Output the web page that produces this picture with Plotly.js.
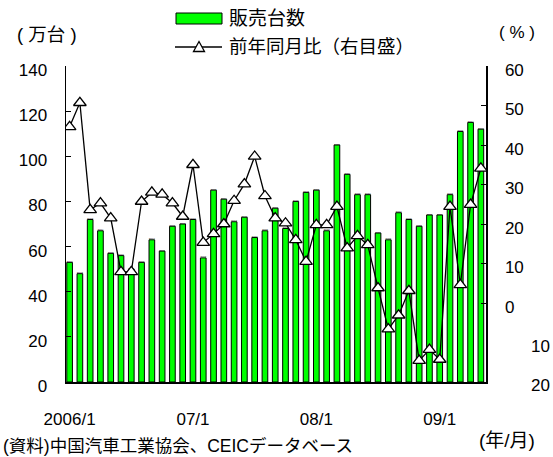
<!DOCTYPE html>
<html>
<head>
<meta charset="utf-8">
<script src="https://cdn.plot.ly/plotly-3.0.1.min.js"></script>
<style>
  body { margin: 0; background: #fff; }
  #plot { width: 553px; height: 457px; }
</style>
</head>
<body>
<div id="plot"></div>
<script>
// months 2006/1 - 2009/5
var months = [
  "2006/1","2006/2","2006/3","2006/4","2006/5","2006/6","2006/7","2006/8","2006/9","2006/10","2006/11","2006/12",
  "2007/1","2007/2","2007/3","2007/4","2007/5","2007/6","2007/7","2007/8","2007/9","2007/10","2007/11","2007/12",
  "2008/1","2008/2","2008/3","2008/4","2008/5","2008/6","2008/7","2008/8","2008/9","2008/10","2008/11","2008/12",
  "2009/1","2009/2","2009/3","2009/4","2009/5"
];

// 販売台数 (万台)
var sales = [
  53, 48, 72, 67, 57, 56, 50, 53, 63, 58, 69, 70,
  72, 55, 85, 81, 71, 73, 64, 67, 77, 68, 80, 84,
  85, 67, 105, 92, 83, 83, 66, 63, 75, 72, 69, 74,
  74, 83, 111, 115, 112
];

// 前年同月比 (%)
var yoy = [
  44.6, 50.7, 23.6, 25.3, 21.5, 7.9, 7.9, 25.7, 28.0, 27.5, 25.3, 21.9,
  35.0, 15.3, 17.5, 20.0, 25.9, 30.1, 37.1, 27.1, 21.5, 20.2, 16.0, 10.5,
  19.8, 19.8, 24.4, 13.9, 17.0, 14.7, 3.8, -6.6, -3.1, 3.1, -14.6, -11.8,
  -14.3, 24.4, 4.6, 24.9, 34.1
];

var xLabels = ["2006/1", "07/1", "08/1", "09/1"];
var xLabelPos = [0, 12, 24, 36];
var yearBreaks = [11.5, 23.5, 35.5];

var idx = months.map(function (m, i) { return i; });

var FONT = "Liberation Sans, Arial, Noto Sans CJK JP, sans-serif";

var barTrace = {
  x: idx,
  y: sales,
  text: months,
  type: "bar",
  name: "販売台数",
  width: 0.55,
  marker: { color: "#00ff00", line: { color: "#000", width: 1 } },
  showlegend: false
};

var lineTrace = {
  x: idx,
  y: yoy,
  text: months,
  type: "scatter",
  mode: "lines+markers",
  name: "前年同月比",
  yaxis: "y2",
  line: { color: "#000", width: 1.3 },
  marker: { symbol: "triangle-up", size: 11, color: "#fff", line: { color: "#000", width: 1.3 } },
  showlegend: false
};

// pixel -> paper helpers for the hand-made legend and notes
var L = 66, R = 486, T = 66, B = 382;
function px(x) { return (x - L) / (R - L); }
function py(y) { return (B - y) / (B - T); }

var triX = 199, triY = 47;
var layout = {
  width: 553,
  height: 457,
  margin: { l: L, r: 553 - R, t: T, b: 457 - B, pad: 0 },
  paper_bgcolor: "#fff",
  plot_bgcolor: "#fff",
  font: { family: FONT, size: 17, color: "#000" },
  xaxis: {
    range: [-0.35, 40.5],
    tickmode: "array",
    tickvals: xLabelPos,
    ticktext: xLabels,
    ticks: "",
    showgrid: false,
    zeroline: false,
    showline: true,
    linecolor: "#000",
    linewidth: 1.5,
    ticklabelstandoff: 21
  },
  xaxis2: {
    overlaying: "x",
    range: [-0.35, 40.5],
    tickmode: "array",
    tickvals: yearBreaks,
    ticks: "inside",
    ticklen: 4,
    tickcolor: "#000",
    showticklabels: false,
    showgrid: false,
    zeroline: false,
    anchor: "y"
  },
  yaxis: {
    range: [0, 140],
    dtick: 20,
    ticks: "inside",
    ticklen: 5,
    tickcolor: "#000",
    showgrid: false,
    zeroline: false,
    showline: true,
    linecolor: "#000",
    linewidth: 1.5,
    ticklabelstandoff: 14,
    ticklabelshift: 4
  },
  yaxis2: {
    overlaying: "y",
    side: "right",
    range: [-20, 60],
    tickmode: "array",
    tickvals: [0, 10, 20, 30, 40, 50, 60],
    ticks: "inside",
    ticklen: 5,
    tickcolor: "#000",
    showgrid: false,
    zeroline: false,
    showline: true,
    linecolor: "#000",
    linewidth: 1.5,
    ticklabelstandoff: 14,
    ticklabelshift: 4
  },
  shapes: [
    { type: "rect", xref: "paper", yref: "paper", x0: px(176), x1: px(222), y0: py(24), y1: py(13),
      fillcolor: "#00ff00", line: { color: "#000", width: 1 } },
    { type: "line", xref: "paper", yref: "paper", x0: px(175), x1: px(222), y0: py(triY), y1: py(triY),
      line: { color: "#000", width: 1.3 } },
    { type: "path", xref: "paper", yref: "paper",
      path: "M " + px(triX - 5.5) + "," + py(triY + 4.5) + " L " + px(triX + 5.5) + "," + py(triY + 4.5) +
            " L " + px(triX) + "," + py(triY - 5.5) + " Z",
      fillcolor: "#fff", line: { color: "#000", width: 1.3 } }
  ],
  annotations: [
    { text: "( 万台 )", xref: "paper", yref: "paper", x: px(47), y: py(35), xanchor: "center", yanchor: "middle", showarrow: false, font: { size: 18.5 } },
    { text: "( % )", xref: "paper", yref: "paper", x: px(517), y: py(32), xanchor: "center", yanchor: "middle", showarrow: false },
    { text: "販売台数", xref: "paper", yref: "paper", x: px(227), y: py(18), xanchor: "left", yanchor: "middle", showarrow: false, font: { size: 19 } },
    { text: "前年同月比（右目盛）", xref: "paper", yref: "paper", x: px(227), y: py(47), xanchor: "left", yanchor: "middle", showarrow: false, font: { size: 18.5 } },
    { text: "(資料)中国汽車工業協会、CEICデータベース", xref: "paper", yref: "paper", x: px(1), y: py(446), xanchor: "left", yanchor: "middle", showarrow: false, font: { size: 17.5 } },
    { text: "(年/月)", xref: "paper", yref: "paper", x: px(507), y: py(440), xanchor: "center", yanchor: "middle", showarrow: false, font: { size: 19 } },
    { text: "10", xref: "paper", yref: "y2", x: px(552), y: -10, xanchor: "right", yanchor: "middle", yshift: -4, showarrow: false },
    { text: "20", xref: "paper", yref: "y2", x: px(552), y: -20, xanchor: "right", yanchor: "middle", yshift: -3, showarrow: false }
  ]
};

Plotly.newPlot("plot", [barTrace, lineTrace], layout, { staticPlot: true });
</script>
</body>
</html>
